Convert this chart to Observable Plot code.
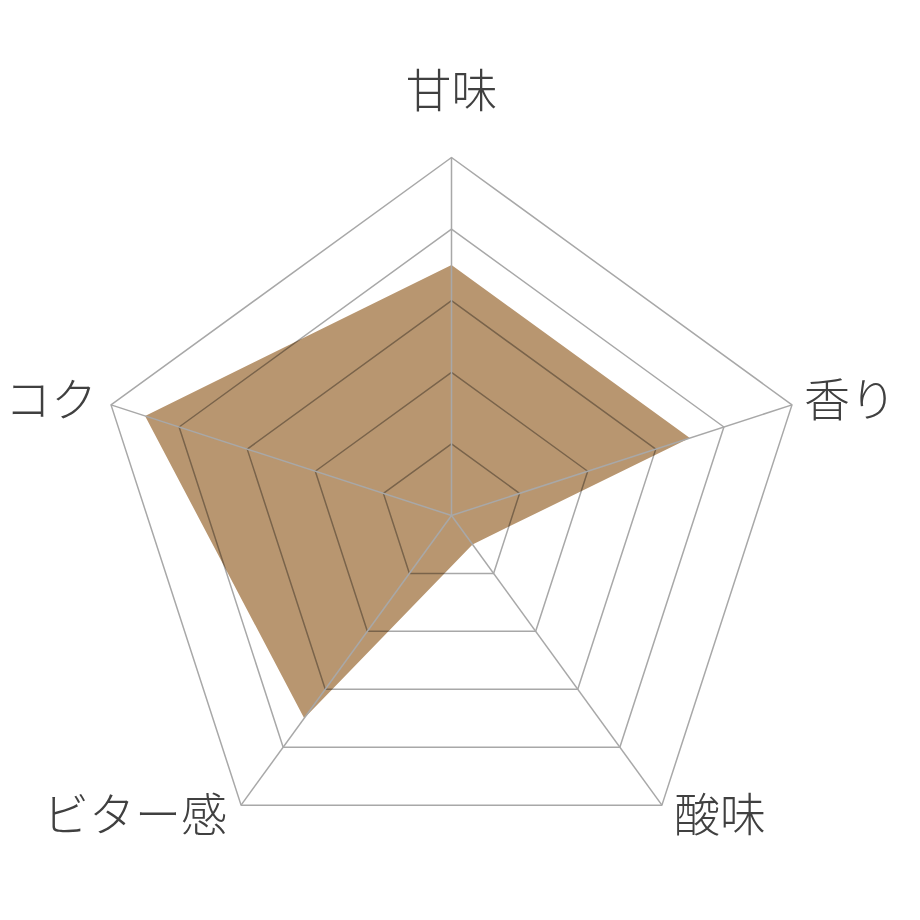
<!DOCTYPE html>
<html>
<head>
<meta charset="utf-8">
<script src="https://cdn.jsdelivr.net/npm/d3@7"></script>
<script src="https://cdn.jsdelivr.net/npm/@observablehq/plot@0.6"></script>
<style>
  html, body { margin: 0; padding: 0; background: #fff; }
  #chart svg { display: block; }
</style>
</head>
<body>
<div id="chart"></div>
<script>
const axes = ["甘味", "香り", "酸味", "ビター感", "コク"];
const values = [3.5, 3.5, 0.5, 3.5, 4.5];
const levels = [1, 2, 3, 4, 5];
const maxValue = 5;

const W = 920, H = 920;
const cx = 451, cy = 515, Rpx = 358;
const k = Rpx / maxValue;

const ang = i => (90 - 72 * i) * Math.PI / 180;
const px = (r, i) => r * Math.cos(ang(i));
const py = (r, i) => r * Math.sin(ang(i));

const ringPts = levels.flatMap(l => axes.map((a, i) => ({level: l, x: px(l, i), y: py(l, i)})));
const dataPts = axes.map((a, i) => ({axis: a, x: px(values[i], i), y: py(values[i], i)}));
const spokes = axes.map((a, i) => ({axis: a, x2: px(maxValue, i), y2: py(maxValue, i)}));

const font = "'Noto Sans CJK JP', 'Noto Sans', sans-serif";
const labelMarks = axes.map((a, i) => {
  const c = Math.cos(ang(i)), s = Math.sin(ang(i));
  let textAnchor = "middle", dx = 0, dy = 0;
  if (c > 0.1) { textAnchor = "start"; dx = 12; }
  else if (c < -0.1) { textAnchor = "end"; dx = -14; }
  if (s > 0.9) dy = -65;
  else if (s > 0) dy = -4;
  else dy = 11;
  return Plot.text([{axis: a, x: px(maxValue, i), y: py(maxValue, i)}], {
    x: "x", y: "y", text: "axis", textAnchor, dx, dy,
    lineAnchor: "middle", fontSize: 46, fontWeight: 300, fill: "#404040", fontFamily: font
  });
});

const chart = Plot.plot({
  width: W, height: H,
  margin: 0,
  x: {domain: [-cx / k, (W - cx) / k], axis: null},
  y: {domain: [-(H - cy) / k, cy / k], axis: null},
  marks: [
    Plot.line(ringPts, {x: "x", y: "y", z: "level", curve: "linear-closed", stroke: "#a8a8a8", strokeWidth: 1.5}),
    Plot.line(dataPts, {x: "x", y: "y", curve: "linear-closed", fill: "#b89670", stroke: "none", mixBlendMode: "multiply"}),
    Plot.link(spokes, {x1: 0, y1: 0, x2: "x2", y2: "y2", stroke: "#a8a8a8", strokeWidth: 1.5}),
    ...labelMarks
  ],
  style: {fontFamily: font, background: "#fff"}
});
document.getElementById("chart").appendChild(chart);
</script>
</body>
</html>
